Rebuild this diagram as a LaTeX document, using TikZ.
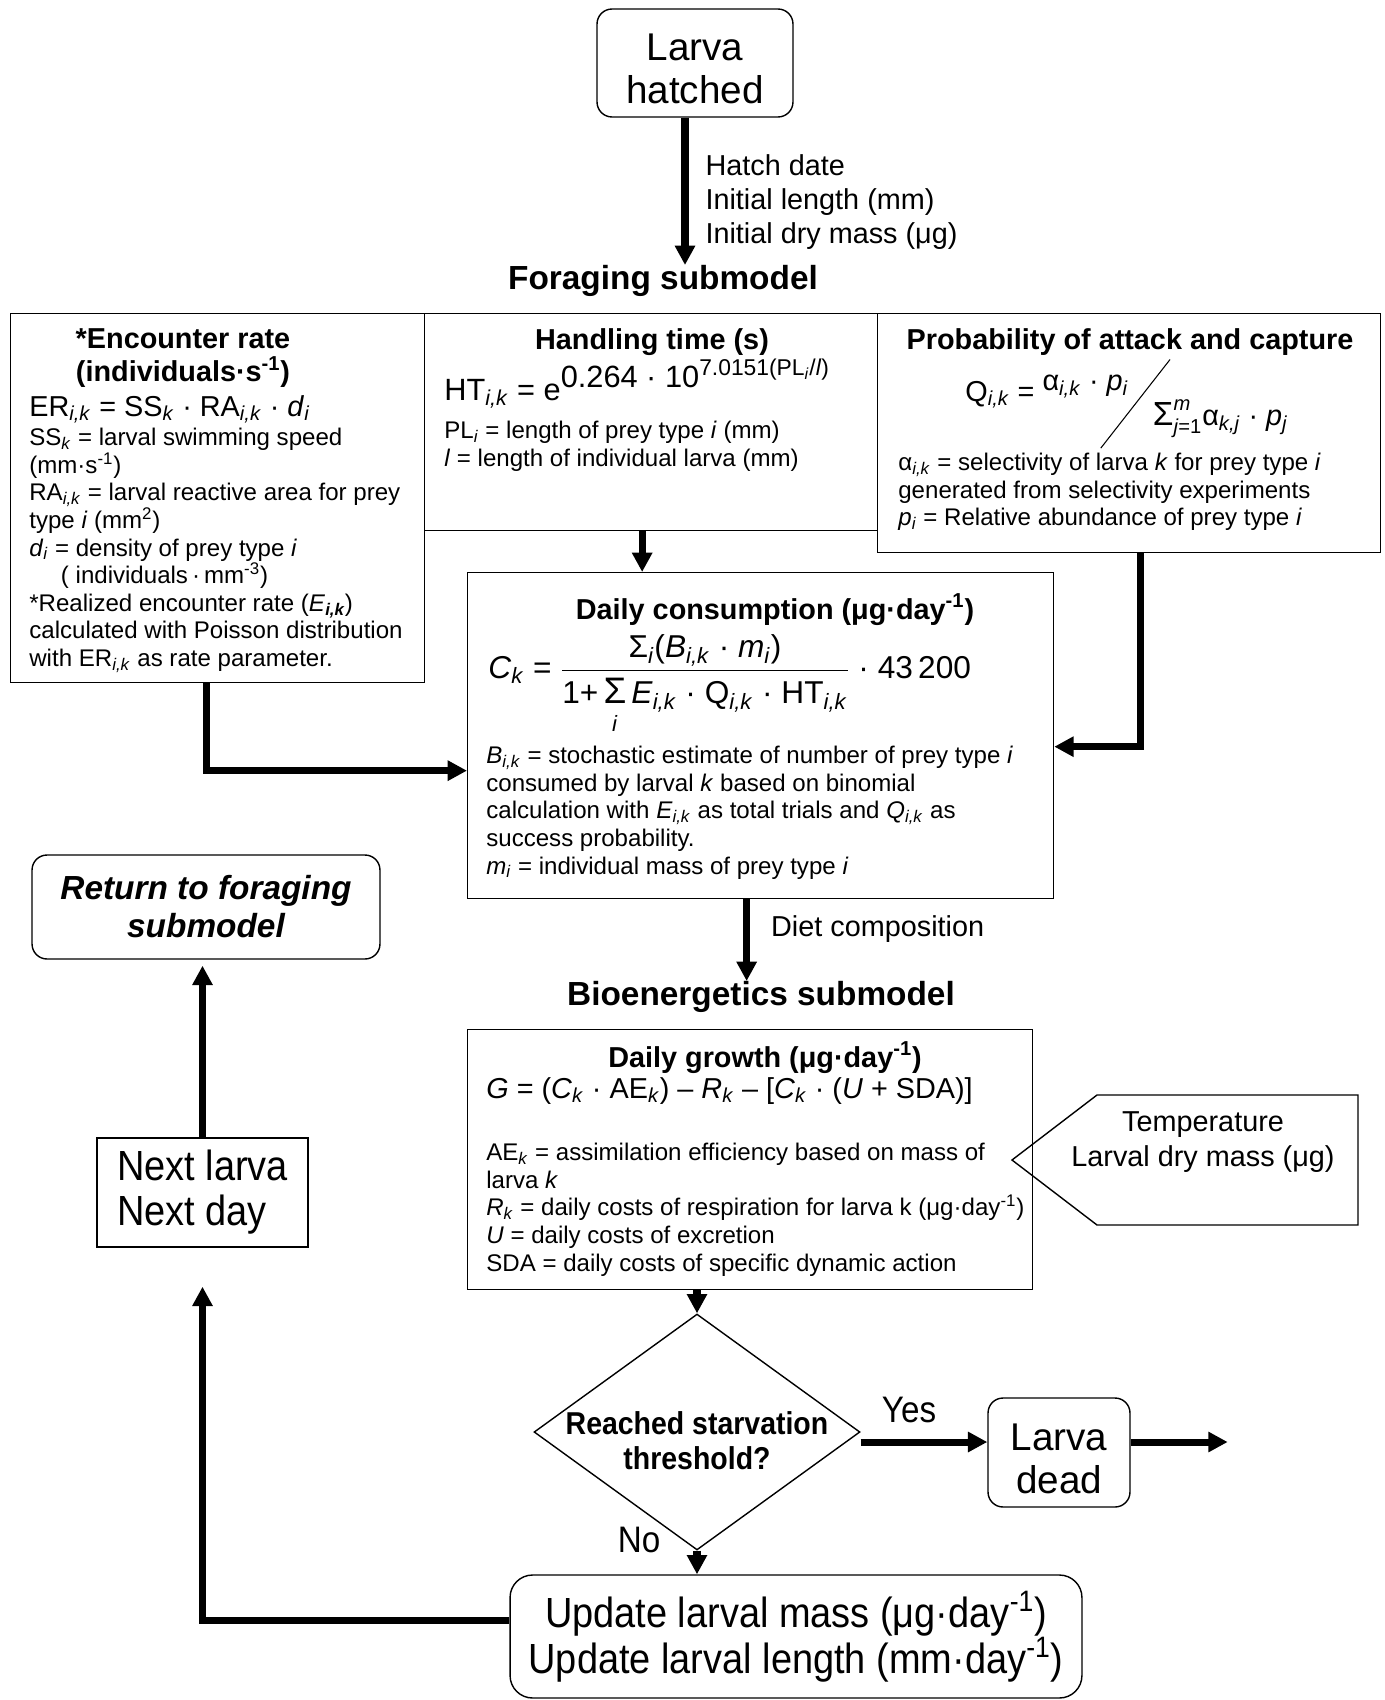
\documentclass[tikz,border=0pt]{standalone}
\usepackage{fontspec}
\setmainfont{Liberation Sans}
\newfontfamily\narrowfont[FakeStretch=0.9]{Liberation Sans}
\usepackage{amsmath}
\usepackage{graphicx}
\usepackage{tikz}
\usetikzlibrary{arrows.meta,positioning,shapes.geometric,calc}

\newcommand{\lsub}[1]{\textsubscript{\textit{#1}}}

\begin{document}
\begin{tikzpicture}[x=0.02cm, y=-0.02cm,
  panel/.style={draw, line width=0.8pt, anchor=north west, inner sep=0pt},
  rnode/.style={draw, line width=0.8pt, rounded corners=0.3cm, align=center, inner sep=0pt},
  arr/.style={-{Triangle[length=11pt,width=11pt]}, line width=4pt},
  ptitle/.style={inner sep=0pt, font=\fontsize{16.4}{18.8}\selectfont\bfseries, align=center},
  pbody/.style={inner sep=0pt, font=\fontsize{13.7}{15.7}\selectfont, align=left, anchor=north west},
  pform/.style={inner sep=0pt, font=\fontsize{16.4}{19}\selectfont, anchor=base west}
]
\useasboundingbox (0,0) rectangle (1384,1700);

\node[rnode, minimum width=3.92cm, minimum height=2.16cm, font=\fontsize{22}{24.6}\selectfont] (hatched) at (695,63) {\rule{0pt}{22pt}Larva\\hatched};
\node[inner sep=0pt, font=\fontsize{19}{22}\selectfont\bfseries] (forage) at (663,281) {Foraging submodel};
\draw[arr] ([xshift=-0.2cm]hatched.south) -- node[right, inner sep=0pt, xshift=0.34cm, yshift=-0.22cm, align=left, font=\fontsize{16.4}{19.4}\selectfont] (hatchinfo) {Hatch date\\Initial length (mm)\\Initial dry mass (μg)} ([xshift=-0.2cm]hatched.south |- forage.north);

\node[panel, minimum width=8.28cm, minimum height=7.38cm] (enc) at (10,313) {};
\node[panel, minimum width=9.06cm, minimum height=4.34cm] (hand) at (424,313) {};
\node[panel, minimum width=10.06cm, minimum height=4.78cm] (prob) at (877,313) {};
\node[panel, minimum width=11.72cm, minimum height=6.52cm] (cons) at (467,572) {};
\node[panel, minimum width=11.3cm, minimum height=5.2cm] (grow) at (467,1029) {};

\node[ptitle, anchor=north] (encTitle) at (183,328) {*Encounter rate\\(individuals·s\textsuperscript{-1})};
\node[pform] (encForm) at (29,416) {ER\lsub{i,k} = SS\lsub{k} · RA\lsub{i,k} · \textit{d}\lsub{i}};
\node[pbody] (encBody) at (29,428) {SS\lsub{k} = larval swimming speed\\
  (mm·s\textsuperscript{-1})\\
  RA\lsub{i,k} = larval reactive area for prey\\
  type \textit{i} (mm\textsuperscript{2})\\
  \textit{d}\lsub{i} = density of prey type \textit{i}\\
  \hspace*{18pt}( individuals\,·\,mm\textsuperscript{-3})\\
  *Realized encounter rate (\textit{E}\textsubscript{\bfseries\itshape i,k})\\
  calculated with Poisson distribution\\
  with ER\lsub{i,k} as rate parameter.};

\node[ptitle, anchor=base] (handTitle) at (652,349) {Handling time (s)};
\node[pform, font=\fontsize{17.5}{20}\selectfont] (handForm) at (444,400) {HT\lsub{i,k} = e\raisebox{7pt}{0.264 · 10\raisebox{7pt}{\fontsize{13}{15}\selectfont 7.0151(PL\lsub{i}/\textit{l})}}};
\node[pbody] (handBody) at (444,421) {PL\lsub{i} = length of prey type \textit{i} (mm)\\
  \textit{l} = length of individual larva (mm)};

\node[ptitle, anchor=base] (probTitle) at (1130,349) {Probability of attack and capture};
\node[pform] (probForm) at (965,401) {Q\lsub{i,k} = \raisebox{6pt}{α\lsub{i,k} · \textit{p}\lsub{i}}\kern-16pt\raisebox{-27pt}{\rotatebox{52}{\rule{64pt}{0.6pt}}}\kern-10pt\raisebox{-14pt}{$\text{\fontsize{19}{19}\selectfont Σ}^{\text{\textit{m}}}_{\text{\textit{j}=1}}$α\lsub{k,j} · \textit{p}\lsub{j}}};
\node[pbody] (probBody) at (898,453) {α\lsub{i,k} = selectivity of larva \textit{k} for prey type \textit{i}\\
  generated from selectivity experiments\\
  \textit{p}\lsub{i} = Relative abundance of prey type \textit{i}};

\node[ptitle, anchor=base] (consTitle) at (775,619) {Daily consumption (μg·day\textsuperscript{-1})};
\node[pform, font=\fontsize{18}{20}\selectfont] (consForm) at (488,678) {$\text{\textit{C}\lsub{k} = }\genfrac{}{}{0.6pt}{0}{\text{Σ\lsub{i}(\textit{B}\lsub{i,k} · \textit{m}\lsub{i})}\rule[-3pt]{0pt}{3pt}}{\rule{0pt}{17pt}\text{1+}\mathop{\text{\fontsize{21}{21}\selectfont Σ}}\limits_{\rule{0pt}{13pt}\text{\textit{i}}}\text{\textit{E}\lsub{i,k} · Q\lsub{i,k} · HT\lsub{i,k}}}\text{ · 43\,200}$};
\node[pbody] (consBody) at (486,746) {\textit{B}\lsub{i,k} = stochastic estimate of number of prey type \textit{i}\\
  consumed by larval \textit{k} based on binomial\\
  calculation with \textit{E}\lsub{i,k} as total trials and \textit{Q}\lsub{i,k} as\\
  success probability.\\
  \textit{m}\lsub{i} = individual mass of prey type \textit{i}};

\draw[arr] ([xshift=-0.18cm]hand.south) -- ([xshift=-0.18cm]hand.south |- cons.north);
\draw[arr] ([xshift=-0.22cm]enc.south) |- ([yshift=-0.7cm]cons.west);
\draw[arr] ([xshift=0.22cm]prob.south) |- ([yshift=-0.22cm]cons.east);

\node[inner sep=0pt, font=\fontsize{19}{22}\selectfont\bfseries] (bio) at (761,997) {Bioenergetics submodel};
\draw[arr] ([xshift=-0.28cm]cons.south) -- node[right, inner sep=0pt, xshift=0.42cm, yshift=0.22cm, font=\fontsize{16.4}{19}\selectfont] (dietLbl) {Diet composition} ([xshift=-0.28cm]cons.south |- bio.north);

\node[ptitle, anchor=base] (growTitle) at (765,1067) {Daily growth (μg·day\textsuperscript{-1})};
\node[pform] (growForm) at (486,1098) {\textit{G} = (\textit{C}\lsub{k} · AE\lsub{k}) – \textit{R}\lsub{k} – [\textit{C}\lsub{k} · (\textit{U} + SDA)]};
\node[pbody] (growBody) at (486,1143) {AE\lsub{k} = assimilation efficiency based on mass of\\
  larva \textit{k}\\
  \textit{R}\lsub{k} = daily costs of respiration for larva k (μg·day\textsuperscript{-1})\\
  \textit{U} = daily costs of excretion\\
  SDA = daily costs of specific dynamic action};

\draw[line width=0.8pt] (1012,1160) -- (1097,1095) -- (1358,1095) -- (1358,1225) -- (1097,1225) -- cycle;
\node[inner sep=0pt, align=center, font=\fontsize{16.4}{20.4}\selectfont] (tempTxt) at (1203,1142) {Temperature\\Larval dry mass (μg)};

\node[diamond, draw, line width=0.8pt, inner sep=0pt, minimum width=6.52cm, minimum height=4.72cm] (dia) at (697,1432) {};
\node[inner sep=0pt, align=center, font=\narrowfont\bfseries\fontsize{18}{20}\selectfont] (diaTxt) at (697,1441) {Reached starvation\\threshold?};
\draw[arr] (grow.south -| dia.north) -- (dia.north);

\node[rnode, minimum width=2.84cm, minimum height=2.18cm, font=\fontsize{22}{24.6}\selectfont] (dead) at (1059,1452.5) {\rule{0pt}{22pt}Larva\\dead};
\draw[arr] ([yshift=0.21cm]dead.west -| dia.east) -- node[above=0.32cm, xshift=-0.3cm, inner sep=0pt, font=\narrowfont\fontsize{21}{24}\selectfont] (yesLbl) {Yes} ([yshift=0.21cm]dead.west);
\coordinate (deadEnd) at ([xshift=1.94cm, yshift=0.21cm]dead.east);
\draw[arr] ([yshift=0.21cm]dead.east) -- (deadEnd);

\node[rnode, rounded corners=0.45cm, minimum width=11.44cm, minimum height=2.46cm, font=\narrowfont\fontsize{24}{26}\selectfont] (upd) at (796,1636.5) {Update larval mass (μg·day\textsuperscript{-1})\\Update larval length (mm·day\textsuperscript{-1})};
\draw[arr] (dia.south) -- node[pos=0, xshift=-1.16cm, yshift=0.22cm, inner sep=0pt, font=\narrowfont\fontsize{21}{24}\selectfont] (noLbl) {No} (dia.south |- upd.north);

\node[draw, line width=0.8pt, minimum width=4.22cm, minimum height=2.18cm, align=left, inner sep=0pt, font=\narrowfont\fontsize{24}{25.6}\selectfont] (next) at (202.5,1192.5) {Next larva\\Next day};
\node[rnode, minimum width=6.96cm, minimum height=2.08cm, font=\fontsize{19}{21.6}\selectfont\bfseries\itshape] (ret) at (206,907) {Return to foraging\\submodel};
\draw[arr] ([yshift=0.33cm]upd.west) -| ([yshift=-0.78cm]next.south);
\draw[arr, shorten >=0.12cm] (next.north) -- (next.north |- ret.south);
\end{tikzpicture}
\end{document}
